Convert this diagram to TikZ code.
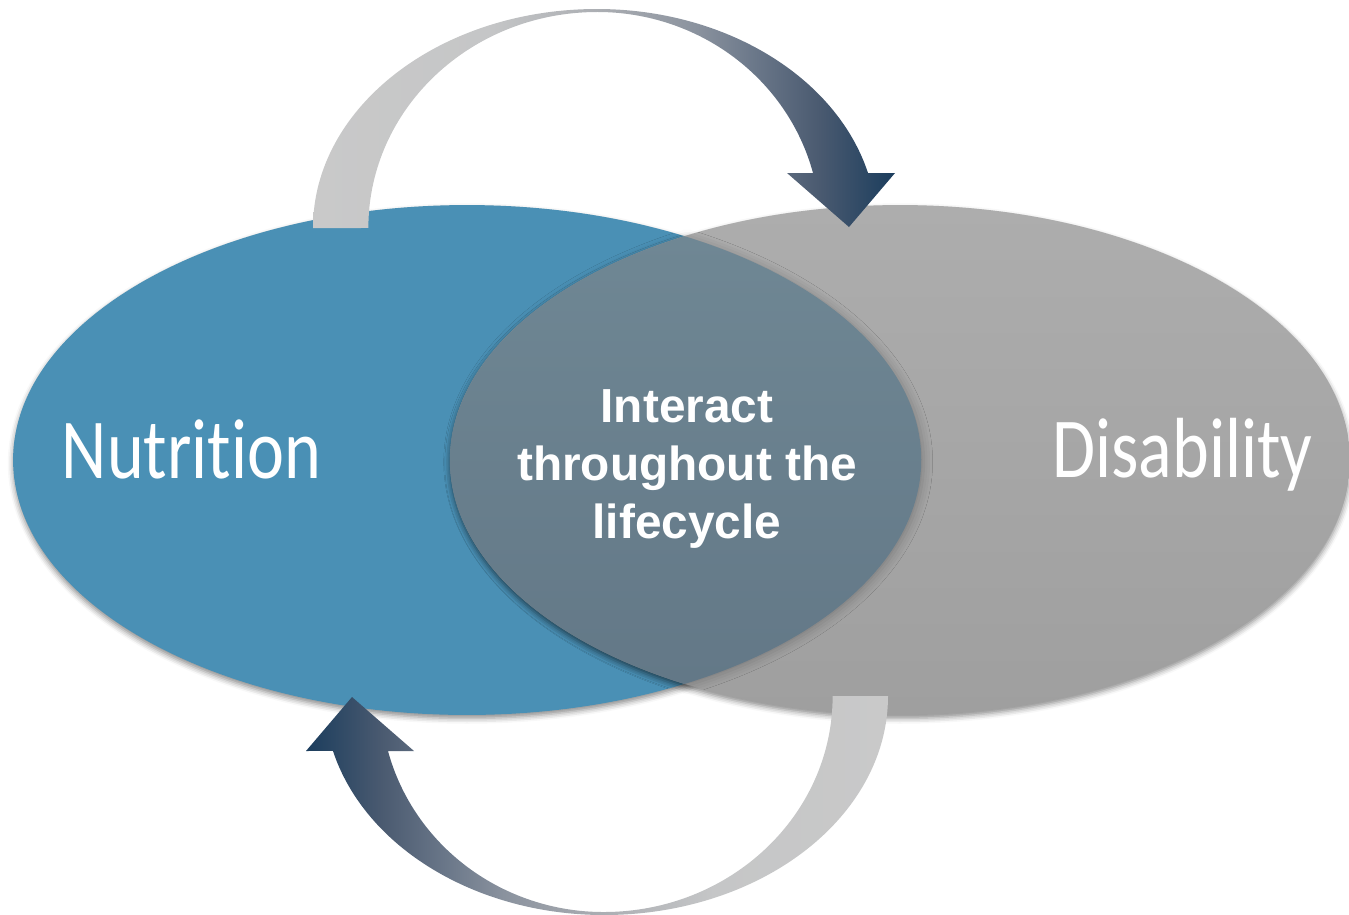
\documentclass[tikz,border=0pt]{standalone}
\usepackage{fontspec}
\usepackage{tikz}
\usetikzlibrary{shapes.geometric,shadows.blur}
\newfontfamily\ovalfont[FakeStretch=0.82,Ligatures=NoCommon]{Carlito}
\newfontfamily\lensfont{Liberation Sans}
\definecolor{nutriblue}{HTML}{4A90B5}
\definecolor{disabtop}{HTML}{ADADAD}
\definecolor{disabbot}{HTML}{9F9F9F}
\definecolor{lensA}{HTML}{6F8794}
\definecolor{lensB}{HTML}{637887}
\definecolor{arrlight}{HTML}{C9C9C9}
\definecolor{arrA}{HTML}{C5C6C7}
\definecolor{arrB}{HTML}{AAADB2}
\definecolor{arrC}{HTML}{8A929E}
\definecolor{arrD}{HTML}{6A7789}
\definecolor{arrE}{HTML}{4A5A70}
\definecolor{arrdark}{HTML}{1B3D5D}
\pgfdeclarehorizontalshading{toparrow}{100bp}{color(0bp)=(arrlight); color(25bp)=(arrlight); color(40bp)=(arrA); color(50bp)=(arrB); color(58bp)=(arrC); color(63bp)=(arrD); color(68.5bp)=(arrE); color(75bp)=(arrdark); color(100bp)=(arrdark)}
\pgfdeclarehorizontalshading{botarrow}{100bp}{color(0bp)=(arrdark); color(25bp)=(arrdark); color(31.5bp)=(arrE); color(37bp)=(arrD); color(42bp)=(arrC); color(50bp)=(arrB); color(60bp)=(arrA); color(75bp)=(arrlight); color(100bp)=(arrlight)}

\begin{document}
\begin{tikzpicture}[x=0.02cm,y=-0.02cm,
	oval/.style={ellipse,inner sep=0pt,outer sep=0pt,minimum height=10.2cm,
		blur shadow={shadow xshift=0pt,shadow yshift=-2pt,shadow blur radius=3pt,shadow opacity=45}},
	ovaltext/.style={text=white,inner sep=0pt,anchor=base,font=\ovalfont\fontsize{48.6}{58}\selectfont}]
	\useasboundingbox (0,0) rectangle (1349,914);
%	the two ovals
	\node [oval,minimum width=18.16cm,fill=nutriblue] (nutrition) at (467,460) {};
	\node [oval,minimum width=18cm,top color=disabtop,bottom color=disabbot] (disability) at (900,460) {};
%	overlap of the ovals
	\coordinate (lenstop) at (684.5,236.2);
	\shade [top color=lensA,bottom color=lensB,
		blur shadow={shadow xshift=1.5pt,shadow yshift=-1pt,shadow blur radius=5pt,shadow opacity=22}]
		(lenstop) arc [start angle=241.4,end angle=118.6,x radius=450,y radius=255]
		arc [start angle=61.4,end angle=-61.4,x radius=454,y radius=255] -- cycle;
	\node [ovaltext] (nutrlabel) at (191.5,478) {Nutrition};
	\node [ovaltext] (disablabel) at (1182.5,477) {Disability};
	\node [text=white,align=center,inner sep=0pt,font=\lensfont\bfseries\fontsize{27.2}{33}\selectfont]
		(interact) at (687,469) {Interact\\throughout the\\lifecycle};
%	curved arrows
	\coordinate (topfoot) at (313,228);
	\coordinate (botfoot) at (888,696);
	\shade [shading=toparrow] (topfoot)
		arc [start angle=180,end angle=270,x radius=284,y radius=219]
		arc [start angle=270,end angle=345.5,x radius=280,y radius=219]
		-- (895,173) -- (849,227) -- (787,173) -- (813,173)
		arc [start angle=345.25,end angle=270,x radius=223,y radius=216]
		arc [start angle=270,end angle=180,x radius=229,y radius=216] -- cycle;
	\shade [shading=botarrow] (botfoot)
		arc [start angle=0,end angle=90,x radius=284,y radius=219]
		arc [start angle=90,end angle=165.5,x radius=280,y radius=219]
		-- (306,751) -- (352,697) -- (414,751) -- (388,751)
		arc [start angle=165.25,end angle=90,x radius=223,y radius=216]
		arc [start angle=90,end angle=0,x radius=229,y radius=216] -- cycle;
\end{tikzpicture}
\end{document}
